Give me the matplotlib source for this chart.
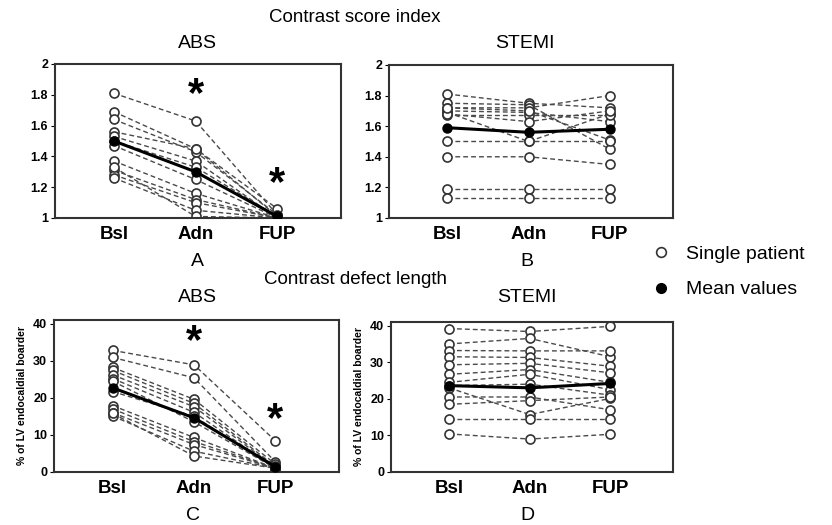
import numpy as np
import matplotlib.pyplot as plt
from matplotlib.lines import Line2D

plt.rcParams['font.family'] = ['Liberation Sans', 'DejaVu Sans']

# ----- Data -----
timepoints = ['Bsl', 'Adn', 'FUP']

# contrast score index, ABS (one entry per patient)
abs_csi_bsl = [1.81, 1.69, 1.64, 1.56, 1.53, 1.50, 1.47, 1.37, 1.31, 1.28, 1.26, 1.33]
abs_csi_adn = [1.63, 1.45, 1.43, 1.45, 1.37, 1.33, 1.25, 1.16, 1.12, 1.10, 1.05, 1.01]
abs_csi_fup = [1.02, 1.06, 1.02, 1.01, 1.00, 1.01, 1.00, 1.00, 1.00, 1.00, 1.00, 1.00]
abs_csi_mean = [1.50, 1.30, 1.01]

# contrast score index, STEMI
stemi_csi_bsl = [1.81, 1.75, 1.72, 1.70, 1.69, 1.67, 1.68, 1.72, 1.50, 1.40, 1.19, 1.13]
stemi_csi_adn = [1.75, 1.74, 1.72, 1.69, 1.50, 1.67, 1.63, 1.70, 1.50, 1.40, 1.19, 1.13]
stemi_csi_fup = [1.72, 1.45, 1.80, 1.63, 1.68, 1.67, 1.70, 1.51, 1.50, 1.35, 1.19, 1.13]
stemi_csi_mean = [1.59, 1.56, 1.58]

# contrast defect length, ABS
abs_cdl_bsl = [32.8, 30.9, 28.2, 27.4, 26.2, 25.2, 24.5, 21.7, 17.9, 17.0, 16.0, 15.1, 15.8]
abs_cdl_adn = [28.9, 25.4, 19.6, 18.5, 17.6, 16.1, 13.5, 15.0, 9.3, 8.2, 7.4, 5.6, 4.3]
abs_cdl_fup = [8.4, 2.7, 2.1, 1.5, 1.2, 1.0, 1.0, 1.0, 1.0, 1.0, 1.0, 1.0, 1.0]
abs_cdl_mean = [22.7, 14.6, 1.4]

# contrast defect length, STEMI
stemi_cdl_bsl = [39.2, 35.0, 33.2, 31.5, 29.3, 26.7, 24.5, 23.6, 23.0, 20.5, 18.5, 14.6, 10.4]
stemi_cdl_adn = [38.4, 36.5, 33.1, 31.3, 29.7, 28.0, 26.7, 24.0, 15.7, 20.5, 19.5, 14.6, 9.0]
stemi_cdl_fup = [39.8, 31.5, 33.1, 28.9, 27.1, 24.5, 22.5, 21.0, 20.1, 17.0, 20.5, 14.6, 10.3]
stemi_cdl_mean = [23.6, 23.0, 24.2]

x = np.arange(len(timepoints))


def draw_panel(ax, bsl, adn, fup, mean, ylim, yticks, yticklabels):
    for b, a, f in zip(bsl, adn, fup):
        ax.plot(x, [b, a, f], linestyle=(0, (3.5, 2.2)), color='#4a4a4a', linewidth=1.0,
                marker='o', markersize=6.5, markerfacecolor='white',
                markeredgecolor='#333333', markeredgewidth=1.2, zorder=2)
    ax.plot(x, mean, color='black', linewidth=2.2, marker='o', markersize=6.5,
            markerfacecolor='black', markeredgecolor='black', zorder=3)
    ax.set_xlim(-0.72, 2.78)
    ax.set_ylim(*ylim)
    ax.set_xticks(x)
    ax.set_xticklabels(timepoints, fontsize=13.5, fontweight='bold')
    ax.tick_params(axis='x', length=0, pad=6)
    ax.set_yticks(yticks)
    ax.set_yticklabels(yticklabels, fontsize=9, fontweight='bold')
    ax.tick_params(axis='y', length=3, width=0.8, pad=2)
    for s in ax.spines.values():
        s.set_linewidth(1.5)
        s.set_color('#333333')


fig = plt.figure(figsize=(8.32, 5.25), dpi=100)

ax_a = fig.add_axes([0.0661, 0.5848, 0.3438, 0.2933])
ax_b = fig.add_axes([0.4675, 0.5848, 0.3413, 0.2914])
ax_c = fig.add_axes([0.0649, 0.1010, 0.3425, 0.2895])
ax_d = fig.add_axes([0.4700, 0.1010, 0.3390, 0.2857])

csi_ticks = [1, 1.2, 1.4, 1.6, 1.8, 2]
csi_labels = ['1', '1.2', '1.4', '1.6', '1.8', '2']
cdl_ticks = [0, 10, 20, 30, 40]
cdl_labels = ['0', '10', '20', '30', '40']

draw_panel(ax_a, abs_csi_bsl, abs_csi_adn, abs_csi_fup, abs_csi_mean, (1, 2.0), csi_ticks, csi_labels)
draw_panel(ax_b, stemi_csi_bsl, stemi_csi_adn, stemi_csi_fup, stemi_csi_mean, (1, 2.0), csi_ticks, csi_labels)
draw_panel(ax_c, abs_cdl_bsl, abs_cdl_adn, abs_cdl_fup, abs_cdl_mean, (0, 41), cdl_ticks, cdl_labels)
draw_panel(ax_d, stemi_cdl_bsl, stemi_cdl_adn, stemi_cdl_fup, stemi_cdl_mean, (0, 41), cdl_ticks, cdl_labels)

for ax in (ax_c, ax_d):
    ax.set_ylabel('% of LV endocaldial boarder', fontsize=7.5, fontweight='bold', labelpad=4)

# significance asterisks
ax_a.text(1, 1.80, '*', fontsize=30, fontweight='bold', ha='center', va='center')
ax_a.text(2, 1.22, '*', fontsize=30, fontweight='bold', ha='center', va='center')
ax_c.text(1, 35.0, '*', fontsize=30, fontweight='bold', ha='center', va='center')
ax_c.text(2, 14.0, '*', fontsize=30, fontweight='bold', ha='center', va='center')

# titles and panel letters (figure pixel coords -> fraction)
W, H = 832, 525


def ftext(px, py, s, size):
    fig.text(px / W, 1 - py / H, s, fontsize=size, ha='center', va='center')


ftext(355, 18, 'Contrast score index', 13.5)
ftext(197, 43, 'ABS', 14)
ftext(525, 43, 'STEMI', 14)
ftext(197, 262, 'A', 14)
ftext(527, 262, 'B', 14)
ftext(355, 279, 'Contrast defect length', 13.5)
ftext(197, 298, 'ABS', 14)
ftext(527, 297, 'STEMI', 14)
ftext(193, 515, 'C', 14)
ftext(527, 515, 'D', 14)

# legend
handles = [
    Line2D([], [], linestyle='none', marker='o', markersize=7, markerfacecolor='white',
           markeredgecolor='#333333', markeredgewidth=1.2, label='Single patient'),
    Line2D([], [], linestyle='none', marker='o', markersize=7, markerfacecolor='black',
           markeredgecolor='black', label='Mean values'),
]
fig.legend(handles=handles, loc='center left', bbox_to_anchor=(632 / W, 1 - 272 / H),
           frameon=False, fontsize=14, handletextpad=0.7, labelspacing=0.9,
           handlelength=1.2)

fig.savefig('out.png', dpi=100)
